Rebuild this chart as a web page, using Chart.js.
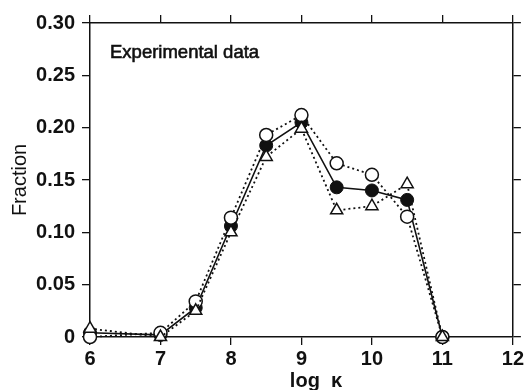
<!DOCTYPE html>
<html>
<head>
<meta charset="utf-8">
<script src="https://cdn.jsdelivr.net/npm/chart.js@4"></script>
<style>
  html, body { margin: 0; padding: 0; background: #fff; }
  #wrap { width: 526px; height: 390px; position: relative; }
</style>
</head>
<body>
<div id="wrap"><canvas id="chart"></canvas></div>
<script>
// ── DATA ─────────────────────────────────────────────────────────
const LOG_K = [6, 7, 7.5, 8, 8.5, 9, 9.5, 10, 10.5, 11];
const FILLED = [0.004, 0.002, 0.028, 0.106, 0.183, 0.205, 0.143, 0.140, 0.131, 0];
const OPEN = [0, 0.004, 0.034, 0.114, 0.193, 0.212, 0.166, 0.155, 0.115, 0];
const TRIANGLE = [0.008, 0, 0.025, 0.100, 0.172, 0.199, 0.121, 0.125, 0.146, 0];

const X_TICKS = [6, 7, 8, 9, 10, 11, 12];
const Y_TICKS = [0, 0.05, 0.10, 0.15, 0.20, 0.25, 0.30];

const ANNOTATION = 'Experimental data';
const X_TITLE = 'log  \u03BA';
const Y_TITLE = 'Fraction';

const FONT = "'Liberation Sans', Arial, sans-serif";
const INK = '#111';

const pts = (ys) => LOG_K.map((x, i) => ({ x, y: ys[i] }));

// ── FRAME HELPERS ────────────────────────────────────────────────
const frameGrid = { drawOnChartArea: false, drawTicks: true, tickLength: 8, color: INK, lineWidth: 1.3 };
const frameBorder = { display: true, color: INK, width: 1.5 };
const fixTicks = (vals) => (scale) => { scale.ticks = vals.map(v => ({ value: v })); };

// text not tied to a scale: annotation + x title
const textPlugin = {
  id: 'labels',
  afterDraw(chart) {
    const { ctx, chartArea } = chart;
    ctx.save();
    ctx.fillStyle = INK;
    ctx.strokeStyle = INK;
    ctx.lineWidth = 0.6;
    ctx.font = `18.5px ${FONT}`;
    ctx.textAlign = 'left';
    ctx.textBaseline = 'alphabetic';
    ctx.fillText(ANNOTATION, chartArea.left + 20, chartArea.top + 35);
    ctx.strokeText(ANNOTATION, chartArea.left + 20, chartArea.top + 35);
    ctx.font = `bold 20px ${FONT}`;
    ctx.textAlign = 'center';
    ctx.fillText(X_TITLE, 316, 387);
    ctx.restore();
  }
};

new Chart(document.getElementById('chart'), {
  type: 'scatter',
  data: {
    datasets: [
      {
        label: 'filled',
        data: pts(FILLED),
        showLine: true,
        clip: false,
        borderColor: INK,
        borderWidth: 1.6,
        pointStyle: 'circle',
        pointRadius: 6.5,
        pointBackgroundColor: INK,
        pointBorderColor: INK,
        pointBorderWidth: 1,
        order: 3,
      },
      {
        label: 'open',
        data: pts(OPEN),
        showLine: true,
        clip: false,
        borderColor: INK,
        borderWidth: 1.8,
        borderDash: [2, 3],
        pointStyle: 'circle',
        pointRadius: 6.5,
        pointBackgroundColor: '#fff',
        pointBorderColor: INK,
        pointBorderWidth: 1.5,
        order: 2,
      },
      {
        label: 'triangle',
        data: pts(TRIANGLE),
        showLine: true,
        clip: false,
        borderColor: INK,
        borderWidth: 1.8,
        borderDash: [2, 3],
        pointStyle: 'triangle',
        pointRadius: 7,
        pointBackgroundColor: '#fff',
        pointBorderColor: INK,
        pointBorderWidth: 1.5,
        order: 1,
      },
    ]
  },
  options: {
    responsive: true,
    maintainAspectRatio: false,
    animation: false,
    layout: { padding: 0 },
    plugins: {
      legend: { display: false },
      tooltip: { enabled: false },
    },
    scales: {
      x: {
        type: 'linear',
        position: 'bottom',
        min: 6, max: 12,
        afterBuildTicks: fixTicks(X_TICKS),
        afterFit: (s) => { s.height = 53; },
        grid: frameGrid,
        border: frameBorder,
        ticks: {
          color: INK,
          padding: 2,
          maxRotation: 0,
          font: { family: FONT, size: 20, weight: 'bold' },
          callback: (v) => String(v),
        },
      },
      x2: {
        type: 'linear',
        position: 'top',
        min: 6, max: 12,
        afterBuildTicks: fixTicks(X_TICKS),
        afterFit: (s) => { s.height = 23; },
        grid: frameGrid,
        border: frameBorder,
        ticks: { callback: () => '' },
      },
      y: {
        type: 'linear',
        position: 'left',
        min: 0, max: 0.30,
        afterBuildTicks: fixTicks(Y_TICKS),
        afterFit: (s) => { s.width = 90; },
        grid: frameGrid,
        border: frameBorder,
        title: {
          display: true,
          text: Y_TITLE,
          color: INK,
          font: { family: FONT, size: 20 },
          padding: { top: 8, bottom: 0 },
        },
        ticks: {
          color: INK,
          padding: 7,
          font: { family: FONT, size: 20, weight: 'bold' },
          callback: (v) => v === 0 ? '0' : v.toFixed(2),
        },
      },
      y2: {
        type: 'linear',
        position: 'right',
        min: 0, max: 0.30,
        afterBuildTicks: fixTicks(Y_TICKS),
        afterFit: (s) => { s.width = 10; },
        grid: frameGrid,
        border: frameBorder,
        ticks: { callback: () => '' },
      },
    }
  },
  plugins: [textPlugin]
});
</script>
</body>
</html>
